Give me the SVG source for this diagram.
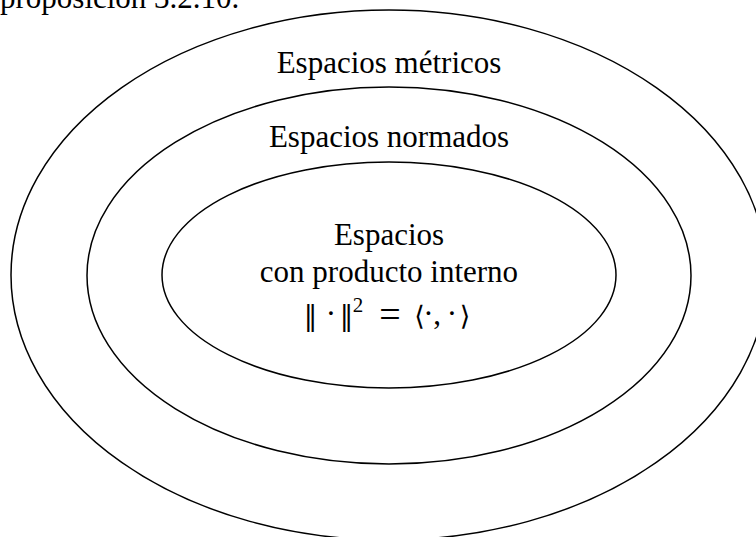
<svg xmlns="http://www.w3.org/2000/svg" width="756" height="537" viewBox="0 0 756 537">
<style>
.e{fill:none;stroke:#000;stroke-width:1.5}
.t{font-family:"Liberation Serif","Times New Roman",serif;font-size:31px;fill:#000}
.m{font-family:"Liberation Serif","DejaVu Serif",serif;font-size:31px;fill:#000;text-anchor:middle}
.n{font-family:"DejaVu Serif",serif;font-size:27px}
.s{font-size:21px}
.q{font-size:38px}
</style>
<rect width="756" height="537" fill="#fff"/>
<text class="t" x="0" y="8">proposición 3.2.10.</text>
<g id="outer">
<ellipse class="e" cx="389" cy="275" rx="378" ry="265"/>
<text class="t" x="389" y="73" text-anchor="middle">Espacios métricos</text>
</g>
<g id="middle">
<ellipse class="e" cx="389" cy="275.5" rx="302" ry="188.5"/>
<text class="t" x="389" y="147" text-anchor="middle">Espacios normados</text>
</g>
<g id="inner">
<ellipse class="e" cx="389" cy="275" rx="227" ry="113"/>
<text class="t" x="389" y="245" text-anchor="middle">Espacios</text>
<text class="t" x="389" y="282" text-anchor="middle">con producto interno</text>
<text class="m" y="324"><tspan class="n" x="310.5" y="325">‖</tspan><tspan x="331" y="324">·</tspan><tspan class="n" x="346.5" y="325">‖</tspan><tspan class="s" x="358" y="312">2</tspan><tspan class="q" x="390" y="327">=</tspan><tspan class="n" x="419.5" y="325">⟨</tspan><tspan x="428.5" y="324">·</tspan><tspan x="437" y="324">,</tspan><tspan x="452" y="324">·</tspan><tspan class="n" x="465" y="325">⟩</tspan></text>
</g>
</svg>
